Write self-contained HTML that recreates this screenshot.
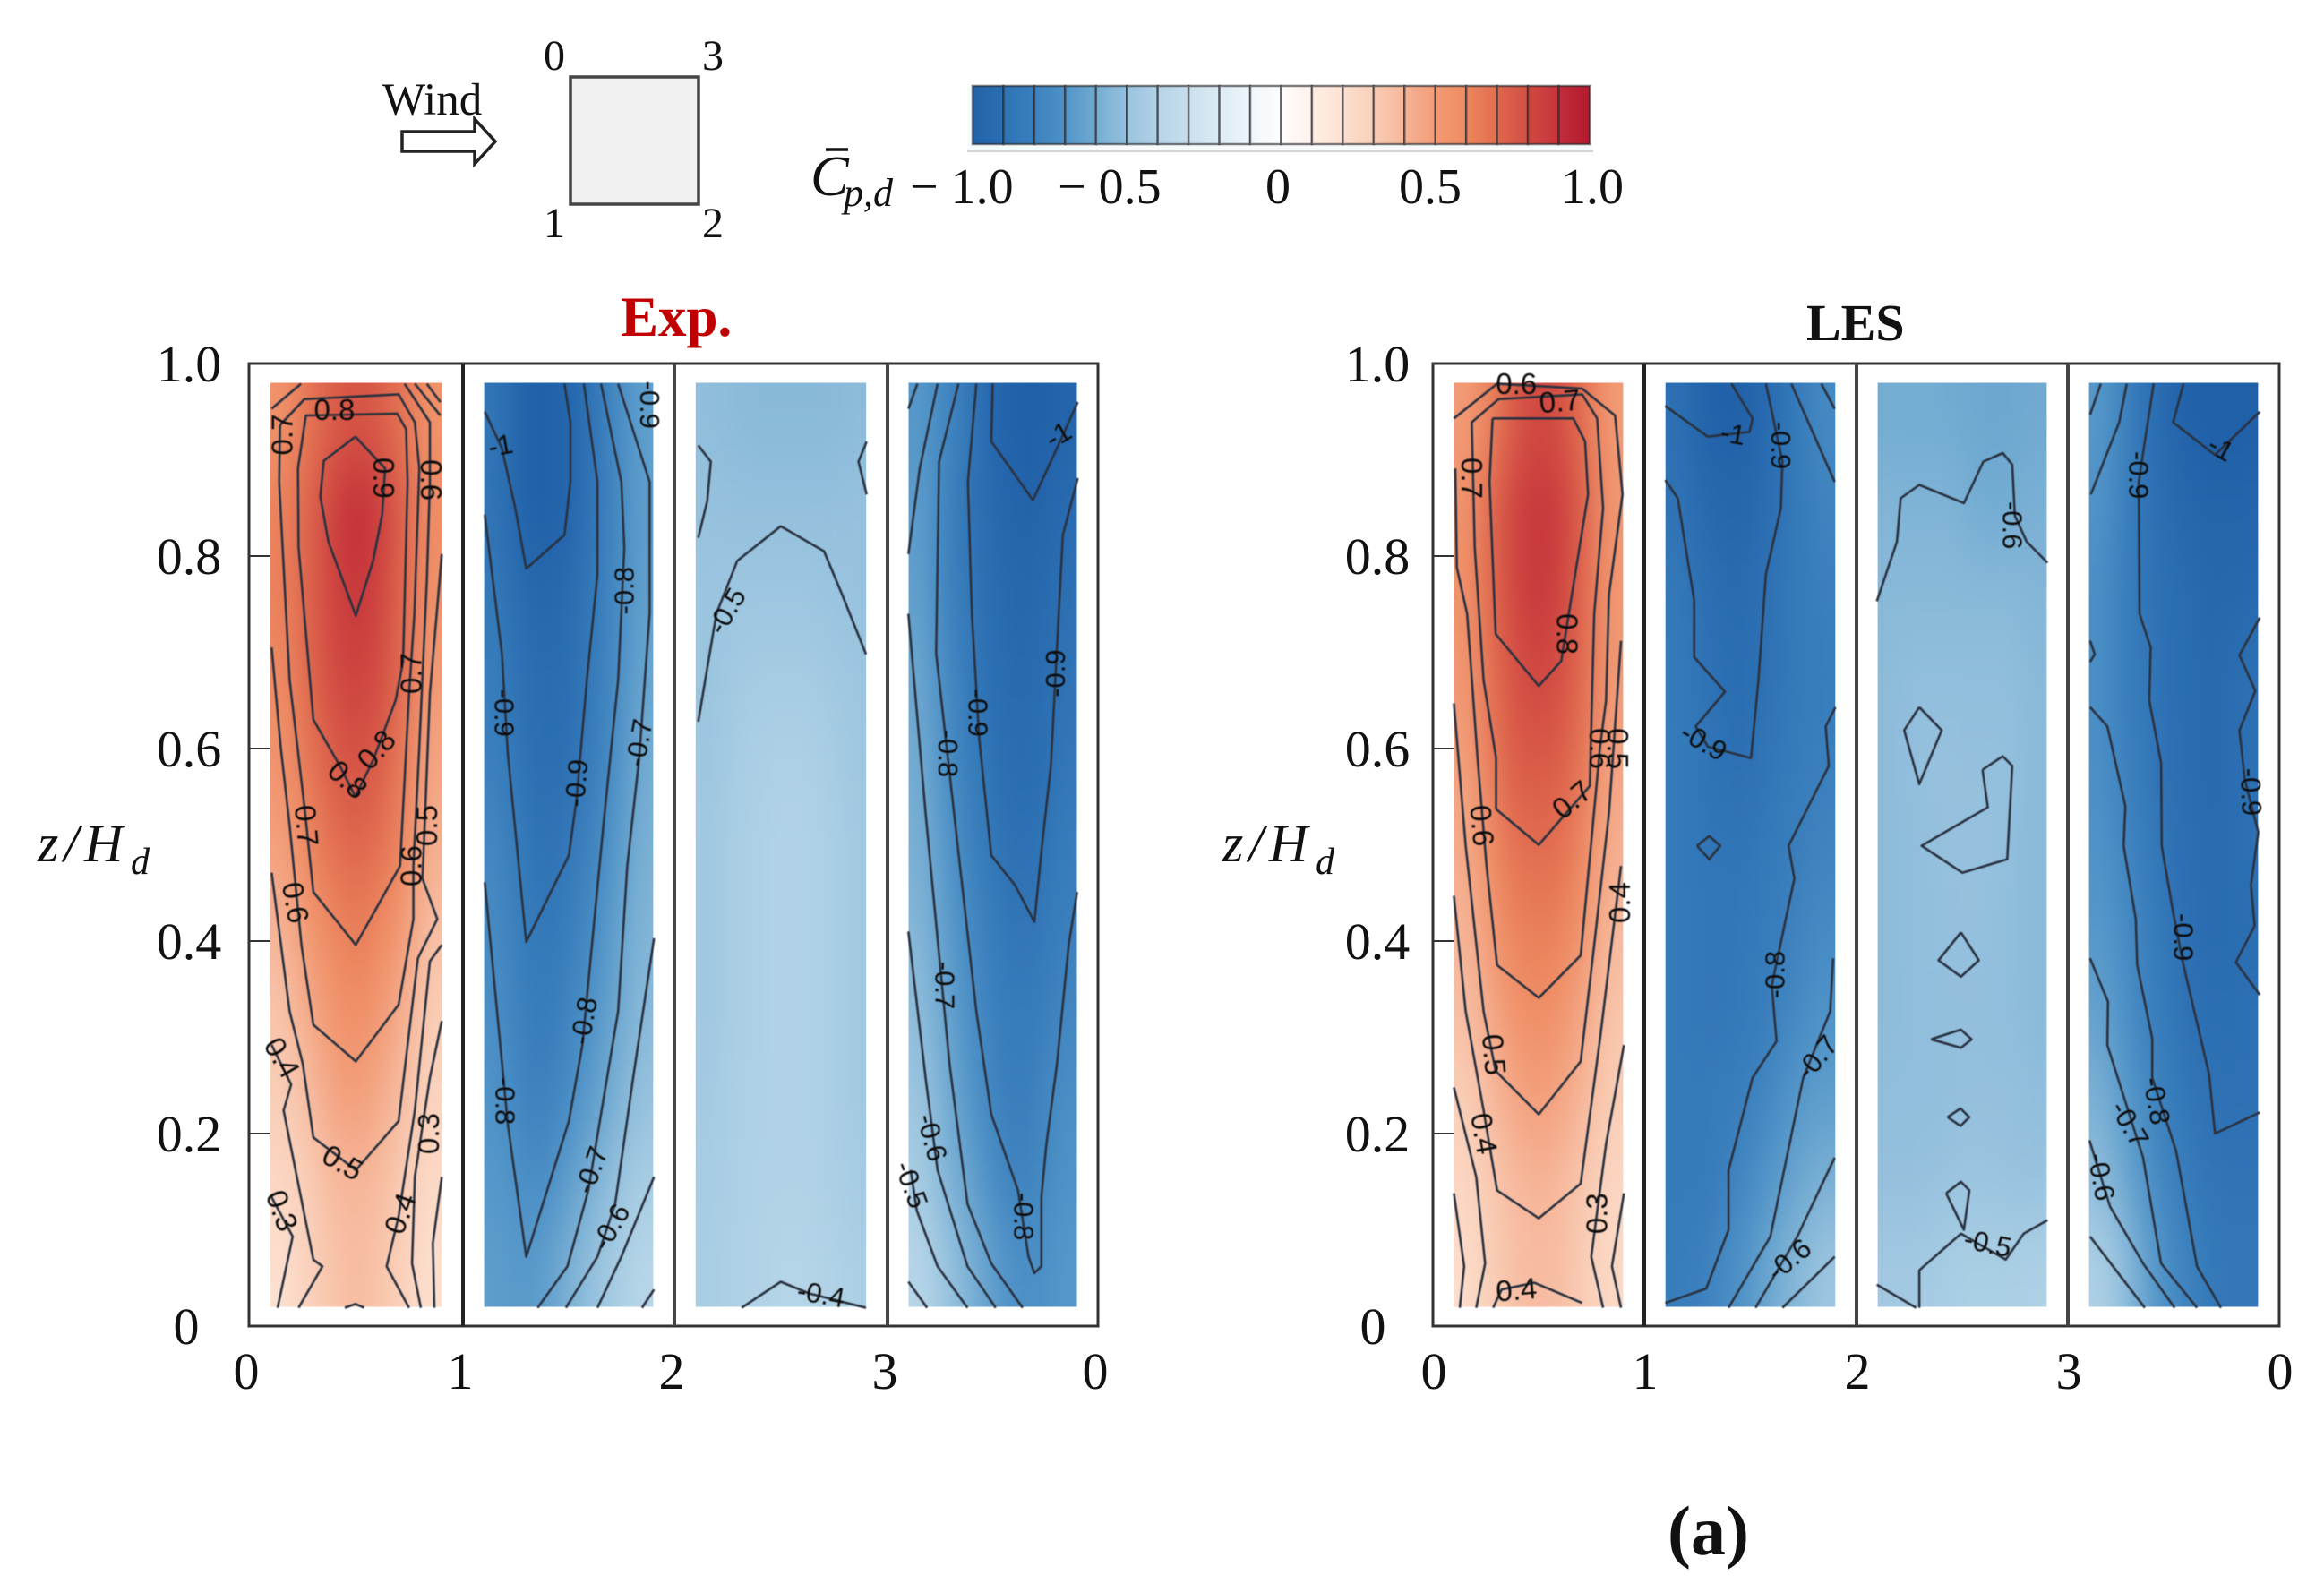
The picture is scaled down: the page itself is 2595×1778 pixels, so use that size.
<!DOCTYPE html>
<html lang="en">
<head>
<meta charset="utf-8">
<title>Mean pressure coefficient contours: Exp. and LES</title>
<style>
html,body{margin:0;padding:0;background:#fff;width:2595px;height:1778px;overflow:hidden}
svg{display:block}
text{font-family:"Liberation Serif",serif;fill:#111}
</style>
</head>
<body>
<svg id="fig" xmlns="http://www.w3.org/2000/svg" width="2595" height="1778" viewBox="0 0 2595 1778">
  <defs id="defs">
    <filter id="soft" filterUnits="userSpaceOnUse" x="-300" y="0" width="3300" height="1800" color-interpolation-filters="sRGB">
      <feGaussianBlur stdDeviation="15 42"/>
    </filter>
    <filter id="inkSoft" filterUnits="userSpaceOnUse" x="0" y="0" width="2595" height="1778">
      <feGaussianBlur stdDeviation="0.6"/>
    </filter>
  </defs>

  <g>
    <text x="427" y="128" font-size="51">Wind</text>
    <polygon points="449,147 530,147 530,133 553,158 530,183 530,169 449,169" fill="#fff" stroke="#222" stroke-width="3.5"/>
    <rect x="637" y="86" width="143" height="142" fill="#f0f0f0" stroke="#444" stroke-width="3.5"/>
    <text x="619" y="78" font-size="48" text-anchor="middle">0</text>
    <text x="796" y="78" font-size="48" text-anchor="middle">3</text>
    <text x="619" y="265" font-size="48" text-anchor="middle">1</text>
    <text x="796" y="265" font-size="48" text-anchor="middle">2</text>
  </g>

  <g id="colorbar">
    <rect x="1080" y="94" width="699" height="75" fill="#f8fbfc" stroke="none"/>
    <line x1="1080" y1="169" x2="1779" y2="169" stroke="#c9c4c2" stroke-width="1.5"/>
  </g>
  <g>
    <text x="905" y="218" font-size="64" font-style="italic">C</text>
    <line x1="922" y1="167" x2="947" y2="167" stroke="#111" stroke-width="3.5"/>
    <text x="942" y="230" font-size="44" font-style="italic">p,d</text>
  </g>
  <text x="1016" y="227" font-size="56">− 1.0</text>
  <text x="1181" y="227" font-size="56">− 0.5</text>
  <text x="1427" y="227" font-size="56" text-anchor="middle">0</text>
  <text x="1597" y="227" font-size="56" text-anchor="middle">0.5</text>
  <text x="1778" y="227" font-size="56" text-anchor="middle">1.0</text>

  <text x="693" y="375" font-size="63" font-weight="bold" style="fill:#c00000">Exp.</text>
  <text x="2017" y="380" font-size="58" font-weight="bold">LES</text>

  <g>
    <text x="42" y="962" font-size="60" font-style="italic" letter-spacing="6">z/H</text>
    <text x="146" y="976" font-size="42" font-style="italic">d</text>
  </g>
  <g>
    <text x="1365" y="962" font-size="60" font-style="italic" letter-spacing="6">z/H</text>
    <text x="1469" y="976" font-size="42" font-style="italic">d</text>
  </g>

  <g id="plots"></g>

  <text x="1862" y="1736" font-size="78" font-weight="bold">(a)</text>
</svg>

<script>
// ---- axis tick data ----
const zTickValues = [0, 0.2, 0.4, 0.6, 0.8, 1.0];
const zTickLabels = ['0', '0.2', '0.4', '0.6', '0.8', '1.0'];
const perimeterTickLabels = ['0', '1', '2', '3', '0'];

// ---- colour bar levels ----
const colorbarLevels = [-0.95,-0.85,-0.75,-0.65,-0.55,-0.45,-0.35,-0.25,-0.15,-0.05,0.05,0.15,0.25,0.35,0.45,0.55,0.65,0.75,0.85,0.95];

// ---- Cp value grids, 7 columns across a face, 11 rows from top of the building down ----
const expFace1Values = [
 [.55,.66,.74,.78,.74,.66,.55],[.62,.72,.83,.92,.85,.72,.58],[.63,.72,.82,.89,.82,.7,.55],
 [.58,.7,.8,.84,.8,.68,.5],[.54,.66,.74,.79,.74,.64,.46],[.48,.6,.68,.72,.68,.6,.42],
 [.4,.52,.6,.65,.6,.5,.36],[.34,.44,.53,.58,.52,.42,.3],[.3,.36,.46,.5,.44,.36,.27],
 [.26,.3,.38,.4,.38,.3,.24],[.2,.28,.34,.38,.34,.28,.2]];
const expFace2Values = [
 [-.87,-.98,-1,-.97,-.88,-.75,-.65],[-.88,-.98,-1,-.97,-.88,-.76,-.66],[-.84,-.94,-.96,-.94,-.85,-.75,-.65],
 [-.82,-.9,-.94,-.92,-.84,-.74,-.63],[-.8,-.88,-.93,-.9,-.82,-.72,-.6],[-.76,-.85,-.9,-.86,-.78,-.68,-.58],
 [-.74,-.82,-.87,-.82,-.74,-.65,-.56],[-.72,-.8,-.84,-.78,-.7,-.62,-.54],[-.7,-.78,-.8,-.74,-.66,-.58,-.5],
 [-.68,-.72,-.74,-.66,-.58,-.5,-.44],[-.66,-.68,-.66,-.58,-.5,-.44,-.38]];
const expFace3Values = [
 [-.52,-.53,-.54,-.54,-.54,-.54,-.53],[-.5,-.51,-.51,-.51,-.51,-.51,-.5],[-.49,-.48,-.48,-.48,-.48,-.49,-.5],
 [-.49,-.46,-.45,-.45,-.45,-.46,-.48],[-.48,-.45,-.43,-.42,-.42,-.44,-.47],[-.47,-.44,-.42,-.41,-.41,-.43,-.46],
 [-.47,-.44,-.42,-.41,-.41,-.43,-.46],[-.47,-.44,-.42,-.41,-.41,-.43,-.46],[-.46,-.43,-.42,-.41,-.41,-.43,-.46],
 [-.45,-.43,-.41,-.41,-.41,-.42,-.45],[-.44,-.42,-.41,-.4,-.4,-.41,-.43]];
const expFace4Values = [
 [-.68,-.76,-.86,-.96,-1,-1,-.97],[-.66,-.78,-.88,-.95,-.98,-.98,-.93],[-.65,-.78,-.86,-.93,-.96,-.95,-.9],
 [-.62,-.74,-.84,-.92,-.95,-.93,-.88],[-.6,-.72,-.82,-.89,-.94,-.92,-.86],[-.58,-.68,-.79,-.87,-.91,-.89,-.82],
 [-.55,-.66,-.75,-.83,-.88,-.86,-.8],[-.52,-.63,-.72,-.8,-.85,-.82,-.76],[-.48,-.59,-.69,-.78,-.83,-.78,-.72],
 [-.44,-.55,-.64,-.73,-.8,-.76,-.7],[-.38,-.48,-.57,-.66,-.72,-.72,-.68]];
const lesFace1Values = [
 [.5,.62,.76,.82,.78,.66,.5],[.55,.7,.84,.88,.85,.7,.52],[.55,.7,.82,.88,.82,.68,.52],
 [.52,.68,.78,.83,.78,.68,.5],[.48,.64,.75,.76,.74,.64,.46],[.44,.58,.68,.7,.68,.58,.42],
 [.4,.52,.62,.64,.62,.52,.38],[.36,.45,.55,.58,.54,.44,.34],[.3,.38,.46,.5,.46,.38,.3],
 [.26,.32,.38,.41,.38,.32,.26],[.22,.3,.36,.38,.36,.3,.24]];
const lesFace2Values = [
 [-.9,-.98,-1,-.98,-.92,-.83,-.75],[-.88,-.94,-.96,-.96,-.9,-.84,-.78],[-.85,-.9,-.94,-.93,-.88,-.84,-.8],
 [-.84,-.88,-.92,-.92,-.88,-.84,-.82],[-.84,-.87,-.9,-.9,-.86,-.83,-.8],[-.84,-.87,-.88,-.87,-.84,-.81,-.78],
 [-.84,-.86,-.87,-.85,-.82,-.78,-.74],[-.84,-.86,-.86,-.84,-.8,-.75,-.7],[-.84,-.84,-.83,-.8,-.74,-.68,-.66],
 [-.84,-.84,-.8,-.74,-.68,-.62,-.58],[-.82,-.8,-.74,-.68,-.6,-.54,-.48]];
const lesFace3Values = [
 [-.6,-.6,-.6,-.61,-.62,-.62,-.61],[-.56,-.57,-.56,-.58,-.61,-.6,-.58],[-.54,-.54,-.54,-.54,-.54,-.54,-.56],
 [-.53,-.52,-.52,-.52,-.52,-.52,-.54],[-.53,-.51,-.5,-.51,-.51,-.51,-.54],[-.53,-.52,-.51,-.5,-.5,-.52,-.54],
 [-.53,-.52,-.51,-.51,-.51,-.52,-.54],[-.53,-.52,-.52,-.51,-.52,-.52,-.54],[-.52,-.52,-.52,-.51,-.51,-.51,-.52],
 [-.51,-.51,-.5,-.49,-.49,-.5,-.5],[-.46,-.46,-.45,-.43,-.43,-.43,-.42]];
const lesFace4Values = [
 [-.68,-.8,-.9,-.97,-1,-1,-1],[-.7,-.8,-.9,-.94,-.97,-.98,-.97],[-.72,-.82,-.88,-.92,-.95,-.96,-.95],
 [-.72,-.82,-.86,-.92,-.94,-.94,-.9],[-.72,-.8,-.86,-.91,-.94,-.94,-.9],[-.7,-.77,-.84,-.9,-.93,-.94,-.9],
 [-.68,-.74,-.82,-.88,-.93,-.93,-.92],[-.64,-.72,-.8,-.87,-.91,-.92,-.9],[-.58,-.68,-.76,-.84,-.88,-.9,-.9],
 [-.52,-.62,-.72,-.8,-.86,-.88,-.88],[-.42,-.52,-.66,-.75,-.82,-.86,-.86]];

// ---- contour isolines, each a flat list of (s along face, z/Hd) samples ----
const expFace1Contours = [
 [.106,.953,.243,.979],
 [.497,.924,.35,.899,.333,.862,.371,.815,.499,.738,.58,.795,.622,.843,.636,.891,.497,.924],
 [.229,.891,.232,.809,.301,.63,.427,.581,.497,.55,.58,.588,.685,.65,.72,.691,.741,.877,.734,.932,.692,.948,.266,.946,.229,.891],
 [.145,.936,.259,.963,.699,.968,.775,.939,.796,.891,.773,.74,.748,.657,.706,.478,.499,.396,.301,.451,.259,.54,.19,.671,.141,.877,.145,.936],
 [.727,.979,.845,.939,.845,.877,.831,.774,.796,.602,.768,.478,.768,.423,.699,.334,.499,.275,.301,.313,.245,.396,.19,.52,.148,.602,.106,.705],
 [.775,.979,.894,.946],
 [.831,.979,.894,.96],
 [.901,.802,.845,.657,.817,.499,.81,.465,.88,.423,.789,.382,.699,.213,.499,.162,.301,.196,.252,.272,.19,.327,.106,.471],
 [.106,.292,.197,.251,.162,.224,.301,.069,.343,.062,.232,.019],
 [.901,.396,.845,.379,.775,.224,.699,.114,.643,.062,.748,.019],
 [.106,.134,.204,.093,.134,.019],
 [.901,.317,.845,.258,.775,.155,.762,.065,.803,.019],
 [.901,.155,.859,.086,.866,.019],
 [.448,.019,.497,.023,.538,.019]];
const expFace2Contours = [
 [.103,.95,.184,.912,.247,.85,.299,.787,.48,.822,.508,.877,.508,.939,.48,.979],
 [.103,.843,.184,.699,.212,.595,.299,.399,.501,.489,.537,.547,.586,.671,.636,.781,.636,.877,.572,.979],
 [.103,.461,.212,.21,.299,.072,.501,.213,.565,.292,.664,.52,.734,.671,.763,.809,.749,.877,.653,.979],
 [.353,.019,.494,.062,.593,.141,.734,.327,.777,.478,.833,.589,.883,.74,.883,.877,.734,.979],
 [.487,.019,.636,.072,.72,.127,.805,.258,.904,.403],
 [.636,.019,.749,.072,.904,.155],
 [.847,.019,.904,.038]];
const expFace3Contours = [
 [.112,.628,.197,.74,.295,.795,.499,.831,.702,.805,.787,.76,.899,.698],
 [.112,.915,.171,.898,.154,.857,.112,.819],
 [.902,.919,.864,.898,.902,.864],
 [.316,.019,.499,.046,.632,.034,.899,.019]];
const expFace4Contours = [
 [.5,.979,.493,.919,.691,.858,.805,.912,.904,.96],
 [.904,.881,.833,.822,.805,.705,.776,.582,.734,.499,.698,.42,.606,.458,.493,.489,.436,.609,.401,.74,.382,.877,.422,.979],
 [.901,.451,.861,.396,.805,.272,.755,.189,.731,.134,.731,.062,.698,.055,.67,.072,.62,.141,.493,.22,.422,.327,.351,.465,.231,.699,.245,.898,.337,.979],
 [.642,.019,.493,.065,.38,.127,.295,.272,.181,.533,.099,.74],
 [.099,.802,.153,.891,.238,.979],
 [.514,.019,.38,.062,.238,.162,.181,.258,.099,.41],
 [.099,.953,.142,.979],
 [.38,.019,.238,.062,.139,.12,.11,.162],
 [.099,.046,.188,.019]];
const lesFace1Contours = [
 [.282,.943,.664,.943,.72,.919,.734,.864,.643,.74,.607,.691,.501,.665,.297,.719,.268,.877,.282,.943],
 [.299,.537,.501,.5,.742,.561,.763,.74,.805,.85,.777,.943,.706,.968,.31,.963,.184,.939,.198,.809,.24,.671,.299,.59,.299,.537],
 [.099,.943,.304,.979,.706,.974,.862,.946,.897,.864,.833,.76,.819,.65,.791,.602,.699,.385,.501,.341,.304,.375,.254,.478,.212,.588,.162,.74,.113,.788,.106,.891],
 [.099,.647,.155,.499,.24,.327,.297,.265,.501,.22,.699,.275,.763,.396,.833,.533,.89,.712],
 [.099,.447,.155,.327,.24,.224,.304,.141,.501,.112,.699,.148,.791,.299,.89,.478],
 [.099,.248,.205,.155,.247,.065,.205,.019],
 [.904,.292,.819,.189,.749,.072,.805,.019],
 [.099,.138,.148,.062,.127,.019],
 [.904,.138,.847,.062,.89,.019],
 [.285,.019,.325,.038,.48,.045,.706,.024]];
const lesFace2Contours = [
 [.099,.956,.299,.924,.496,.929,.51,.943,.411,.979],
 [.573,.979,.651,.898,.644,.85,.573,.781,.538,.671,.503,.59,.299,.602,.242,.623,.38,.659,.235,.695,.235,.754,.158,.86,.099,.879],
 [.249,.499,.306,.509,.358,.499,.306,.485,.249,.499],
 [.099,.024,.292,.039,.397,.1,.397,.162,.51,.258,.623,.296,.601,.354,.707,.465,.68,.499,.869,.582,.855,.623,.901,.643],
 [.397,.019,.594,.093,.749,.258,.876,.327,.89,.382],
 [.524,.019,.721,.093,.897,.175],
 [.651,.019,.897,.072],
 [.693,.979,.897,.877],
 [.834,.979,.897,.953]];
const lesFace3Contours = [
 [.096,.753,.191,.815,.209,.86,.297,.874,.508,.855,.6,.898,.692,.907,.737,.895,.749,.842,.805,.815,.904,.793],
 [.297,.643,.403,.619,.297,.563,.226,.619,.297,.643],
 [.596,.578,.692,.592,.737,.582,.713,.485,.501,.471,.308,.499,.621,.539,.596,.578],
 [.494,.409,.579,.38,.494,.363,.388,.38,.494,.409],
 [.353,.298,.494,.308,.544,.298,.494,.289,.353,.298],
 [.431,.217,.492,.226,.534,.217,.492,.208,.431,.217],
 [.424,.138,.494,.15,.534,.141,.508,.1,.424,.138],
 [.297,.019,.297,.058,.494,.096,.706,.069,.791,.096,.904,.11],
 [.096,.043,.282,.019]];
const lesFace4Contours = [
 [.547,.979,.498,.939,.696,.905,.908,.95],
 [.908,.736,.812,.697,.887,.66,.812,.619,.837,.568,.901,.513,.866,.458,.884,.416,.795,.378,.908,.344],
 [.406,.979,.335,.877,.339,.74,.392,.705,.385,.65,.441,.585,.444,.499,.498,.43,.547,.375,.668,.262,.696,.2,.908,.222],
 [.279,.979,.243,.939,.109,.864],
 [.105,.643,.187,.623,.272,.54,.264,.499,.321,.423,.328,.375,.399,.299,.399,.258,.512,.182,.611,.062,.724,.019],
 [.105,.382,.19,.337,.187,.292,.356,.175,.441,.065,.611,.019],
 [.102,.193,.2,.124,.356,.065,.505,.019],
 [.105,.093,.364,.019],
 [.105,.947,.156,.979],
 [.105,.712,.127,.698,.105,.69]];

// ---- contour labels: text, s, z/Hd, text rotation ----
const expFace1Labels = [['0.8',.399,.952,0],['0.7',.155,.926,-90],['0.9',.629,.881,90],['0.6',.852,.879,90],['0.8',.462,.568,42],['0.8',.594,.599,-48],['0.7',.757,.678,-90],['0.7',.27,.52,85],['0.6',.218,.44,80],['0.5',.831,.52,-90],['0.6',.757,.478,-90],['0.4',.155,.279,60],['0.3',.155,.12,70],['0.3',.838,.2,-90],['0.4',.706,.117,-70],['0.5',.438,.17,30]];
const expFace2Labels = [['-1',.177,.915,-10],['-0.9',.883,.957,90],['-0.8',.763,.764,-90],['-0.9',.195,.637,90],['-0.9',.537,.564,-85],['-0.7',.833,.606,-80],['-0.8',.572,.317,-80],['-0.8',.2,.234,90],['-0.7',.607,.162,-70],['-0.6',.699,.103,-60]];
const expFace3Labels = [['-0.5',.246,.743,-60],['-0.4',.688,.033,10]];
const expFace4Labels = [['-1',.812,.926,-30],['-0.9',.797,.678,-90],['-0.9',.429,.637,90],['-0.8',.288,.595,90],['-0.7',.273,.354,90],['-0.6',.212,.196,75],['-0.5',.113,.147,70],['-0.8',.646,.114,90]];
const lesFace1Labels = [['0.6',.395,.979,0],['0.7',.6,.961,-5],['0.7',.184,.881,90],['0.8',.636,.719,90],['0.6',.791,.6,90],['0.5',.876,.6,90],['0.7',.657,.547,-40],['0.6',.233,.52,85],['0.4',.883,.44,-90],['0.5',.29,.282,85],['0.4',.243,.2,80],['0.3',.776,.117,-90],['0.4',.395,.038,-5]];
const lesFace2Labels = [['-1',.418,.927,10],['-0.9',.644,.915,90],['-0.9',.28,.607,30],['-0.8',.615,.365,-90],['-0.7',.813,.279,-50],['-0.6',.682,.069,-40]];
const lesFace3Labels = [['-0.6',.737,.832,90],['-0.5',.621,.086,12]];
const lesFace4Labels = [['-1',.724,.912,30],['-0.9',.335,.884,90],['-0.9',.866,.555,88],['-0.9',.547,.404,90],['-0.8',.42,.234,80],['-0.7',.293,.21,60],['-0.6',.158,.155,80]];

// ---- figure assembly: which data goes on which panel ----
const expFaces = [
 {values: expFace1Values, contours: expFace1Contours, labels: expFace1Labels},
 {values: expFace2Values, contours: expFace2Contours, labels: expFace2Labels},
 {values: expFace3Values, contours: expFace3Contours, labels: expFace3Labels},
 {values: expFace4Values, contours: expFace4Contours, labels: expFace4Labels}];
const lesFaces = [
 {values: lesFace1Values, contours: lesFace1Contours, labels: lesFace1Labels},
 {values: lesFace2Values, contours: lesFace2Contours, labels: lesFace2Labels},
 {values: lesFace3Values, contours: lesFace3Contours, labels: lesFace3Labels},
 {values: lesFace4Values, contours: lesFace4Contours, labels: lesFace4Labels}];

// ---- scales ----
const NS = 'http://www.w3.org/2000/svg';
const Z0_PX = 1481, Z1_PX = 406;
const S_MIN = 0.1, S_MAX = 0.9, Z_MIN = 0.02, Z_MAX = 0.98;
function zScale(z) { return Z0_PX + (Z1_PX - Z0_PX) * z; }
function xScale(edges, face, s) { return edges[face] + (edges[face + 1] - edges[face]) * s; }

const colorStops = [
 [-1,'#2060a8'],[-.9,'#2d71b4'],[-.8,'#3b80bd'],[-.7,'#4f93c8'],[-.6,'#74acd2'],[-.5,'#97c2de'],[-.4,'#b4d4e7'],
 [-.2,'#dcebf4'],[0,'#ffffff'],[.2,'#fde0d0'],[.3,'#f9cfb8'],[.4,'#f6b598'],[.5,'#f29b76'],[.6,'#ee8a60'],
 [.7,'#e06a4e'],[.8,'#d24c42'],[.9,'#c3303a'],[1,'#b2182b']];
function hex(c, i) { return parseInt(c.substr(i, 2), 16); }
function colorOf(v) {
  v = Math.max(-1, Math.min(1, v));
  for (let i = 0; i < colorStops.length - 1; i++) {
    const a = colorStops[i], b = colorStops[i + 1];
    if (v <= b[0]) {
      const t = (v - a[0]) / (b[0] - a[0]);
      const ch = [1, 3, 5].map(k => Math.round(hex(a[1], k) + (hex(b[1], k) - hex(a[1], k)) * t));
      return 'rgb(' + ch.join(',') + ')';
    }
  }
  return colorStops[colorStops.length - 1][1];
}
function mk(tag, parent) {
  const el = document.createElementNS(NS, tag);
  parent.appendChild(el);
  return el;
}

// ---- colour bar ----
(function drawColorbar() {
  const bar = document.getElementById('colorbar');
  const defs = document.getElementById('defs');
  const x0 = 1086, x1 = 1775, y0 = 96, y1 = 161;
  const w = (x1 - x0) / colorbarLevels.length;
  colorbarLevels.forEach((lv, i) => {
    const g = mk('linearGradient', defs);
    g.setAttribute('id', 'cb-grad-' + i);
    const s0 = mk('stop', g);
    s0.setAttribute('offset', '0');
    s0.setAttribute('stop-color', colorOf(lv - 0.04));
    const s1 = mk('stop', g);
    s1.setAttribute('offset', '1');
    s1.setAttribute('stop-color', colorOf(lv + 0.04));
    const r = mk('rect', bar);
    
    
    r.setAttribute('x', x0 + i * w);
    r.setAttribute('y', y0);
    r.setAttribute('width', w);
    r.setAttribute('height', y1 - y0);
    r.setAttribute('fill', 'url(#cb-grad-' + i + ')');
    r.setAttribute('stroke', 'rgba(40,40,45,.6)');
    r.setAttribute('stroke-width', '2.5');
  });
})();

// ---- panels ----
function drawFigure(key, faces, edges, yLabelX, yZeroX, xLabelOffset) {
  const root = document.getElementById('plots');
  const fig = mk('g', root);
  
  

  faces.forEach((face, f) => {
    const sx0 = xScale(edges, f, S_MIN), sx1 = xScale(edges, f, S_MAX);
    const sy0 = zScale(Z_MAX), sy1 = zScale(Z_MIN);

    const clip = mk('clipPath', fig);
    clip.setAttribute('id', key + '-clip-' + f);
    const cr = mk('rect', clip);
    cr.setAttribute('x', sx0);
    cr.setAttribute('y', sy0);
    cr.setAttribute('width', sx1 - sx0);
    cr.setAttribute('height', sy1 - sy0);

    const heatClip = mk('g', fig);
    
    
    heatClip.setAttribute('clip-path', 'url(#' + key + '-clip-' + f + ')');
    const heat = mk('g', heatClip);
    heat.setAttribute('filter', 'url(#soft)');

    const rows = face.values.length, cols = face.values[0].length;
    face.values.forEach((row, i) => {
      row.forEach((v, j) => {
        let xa = xScale(edges, f, S_MIN + (S_MAX - S_MIN) * j / cols);
        let xb = xScale(edges, f, S_MIN + (S_MAX - S_MIN) * (j + 1) / cols);
        let ya = zScale(Z_MAX - (Z_MAX - Z_MIN) * i / rows);
        let yb = zScale(Z_MAX - (Z_MAX - Z_MIN) * (i + 1) / rows);
        if (j === 0) xa -= 120;
        if (j === cols - 1) xb += 120;
        if (i === 0) ya -= 300;
        if (i === rows - 1) yb += 300;
        const c = mk('rect', heat);
        
        
        c.setAttribute('x', xa);
        c.setAttribute('y', ya);
        c.setAttribute('width', xb - xa + 1);
        c.setAttribute('height', yb - ya + 1);
        c.setAttribute('fill', colorOf(v));
      });
    });

    const lines = mk('g', fig);
    
    
    lines.setAttribute('filter', 'url(#inkSoft)');
    face.contours.forEach(pts => {
      const out = [];
      for (let k = 0; k < pts.length; k += 2) {
        out.push(xScale(edges, f, pts[k]).toFixed(1) + ',' + zScale(pts[k + 1]).toFixed(1));
      }
      const p = mk('polyline', lines);
      
      
      p.setAttribute('points', out.join(' '));
      p.setAttribute('fill', 'none');
      p.setAttribute('stroke', '#2c3340');
      p.setAttribute('stroke-width', '2.6');
      p.setAttribute('stroke-linejoin', 'round');
    });

    face.labels.forEach(lb => {
      const px = xScale(edges, f, lb[1]), py = zScale(lb[2]);
      const t = mk('text', lines);
      
      
      t.setAttribute('transform', 'translate(' + px.toFixed(1) + ' ' + py.toFixed(1) + ') rotate(' + lb[3] + ')');
      t.setAttribute('text-anchor', 'middle');
      t.setAttribute('dominant-baseline', 'central');
      t.setAttribute('font-size', lb[0].charAt(0) === '-' ? '31' : '33');
      t.setAttribute('style', 'font-family:"Liberation Sans",sans-serif;fill:#111');
      t.textContent = lb[0];
    });
  });

  // frame and face dividers
  const frame = mk('rect', fig);
  
  
  frame.setAttribute('x', edges[0]);
  frame.setAttribute('y', zScale(1));
  frame.setAttribute('width', edges[4] - edges[0]);
  frame.setAttribute('height', zScale(0) - zScale(1));
  frame.setAttribute('fill', 'none');
  frame.setAttribute('stroke', '#333');
  frame.setAttribute('stroke-width', '3');
  [1, 2, 3].forEach(i => {
    const d = mk('line', fig);
    
    
    d.setAttribute('x1', edges[i]);
    d.setAttribute('x2', edges[i]);
    d.setAttribute('y1', zScale(1));
    d.setAttribute('y2', zScale(0));
    d.setAttribute('stroke', i === 1 ? '#222' : '#444');
    d.setAttribute('stroke-width', '4');
  });

  // z axis
  zTickValues.forEach((v, i) => {
    if (v > 0 && v < 1) {
      const tk = mk('line', fig);
      
      
      tk.setAttribute('x1', edges[0]);
      tk.setAttribute('x2', edges[0] + 24);
      tk.setAttribute('y1', zScale(v));
      tk.setAttribute('y2', zScale(v));
      tk.setAttribute('stroke', '#333');
      tk.setAttribute('stroke-width', '2');
    }
    const t = mk('text', fig);
    
    
    t.setAttribute('x', v === 0 ? yZeroX : yLabelX);
    t.setAttribute('y', zScale(v) + 20);
    t.setAttribute('font-size', '58');
    t.setAttribute('text-anchor', 'middle');
    t.textContent = zTickLabels[i];
  });

  // perimeter axis
  perimeterTickLabels.forEach((lb, i) => {
    const t = mk('text', fig);
    
    
    t.setAttribute('x', edges[i] + xLabelOffset);
    t.setAttribute('y', 1551);
    t.setAttribute('font-size', '58');
    t.setAttribute('text-anchor', 'middle');
    t.textContent = lb;
  });
}

drawFigure('exp', expFaces, [278, 517, 753, 991, 1226], 211, 208, -3);
drawFigure('les', lesFaces, [1600, 1836, 2073, 2309, 2545], 1538, 1533, 1);
</script>
</body>
</html>
